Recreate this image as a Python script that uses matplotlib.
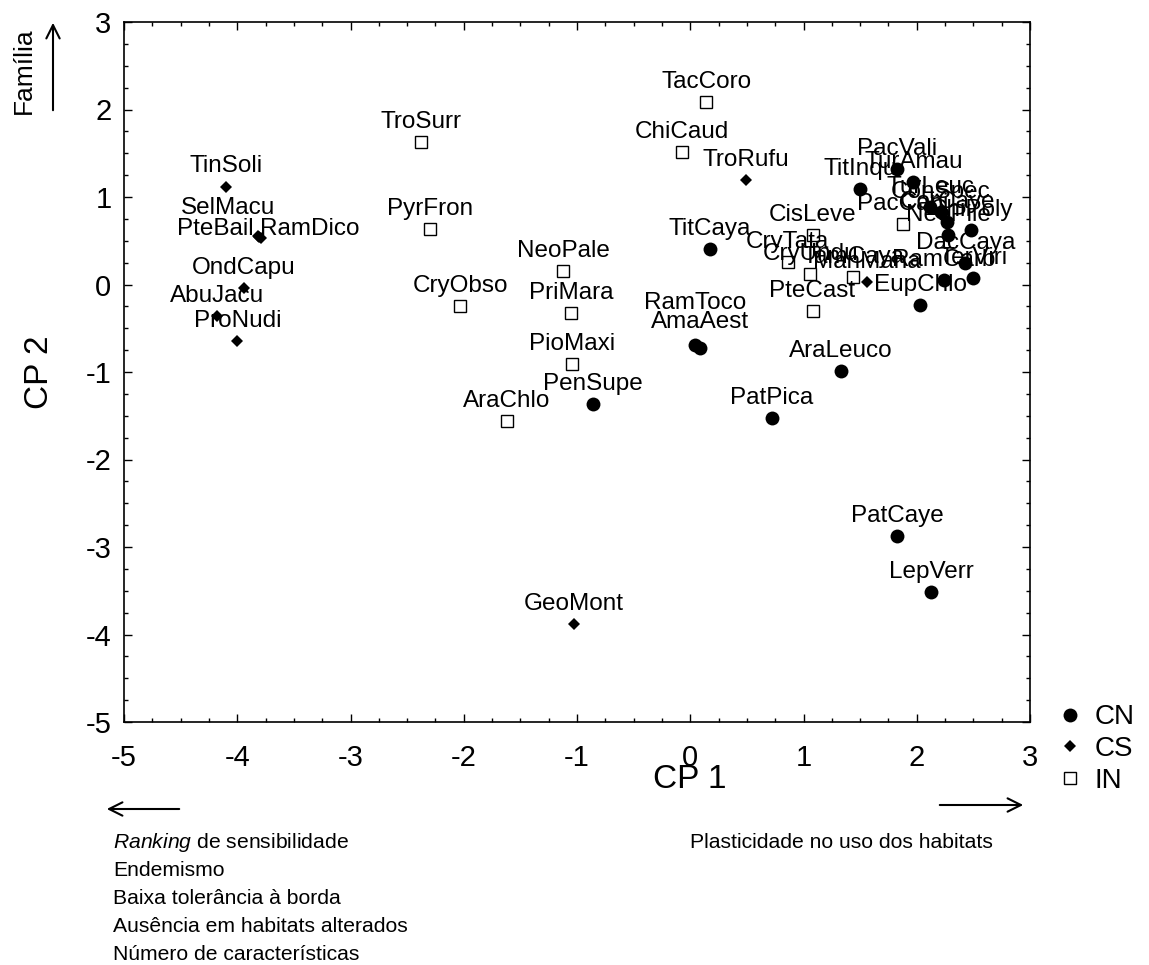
import matplotlib
matplotlib.use('Agg')
import matplotlib.pyplot as plt
from matplotlib.ticker import MultipleLocator

plt.rcParams['font.family'] = ['Liberation Sans', 'DejaVu Sans']
plt.rcParams['axes.unicode_minus'] = False
plt.rcParams['mathtext.fontset'] = 'custom'
plt.rcParams['mathtext.rm'] = 'Liberation Sans'
plt.rcParams['mathtext.it'] = 'Liberation Sans:italic'

# CN species
cn_names = ['TitCaya', 'RamToco', 'AmaAest', 'PenSupe', 'PatPica', 'AraLeuco',
            'PatCaye', 'LepVerr', 'PacVali', 'TitInqu', 'TurAmau', 'TurLeuc',
            'ConSpec', 'CorCaye', 'ChiPoly', 'NeoPile', 'DacCaya', 'TerViri',
            'RamCarb', 'EupChlo']
cn_x = [0.17, 0.04, 0.09, -0.86, 0.72, 1.33,
        1.83, 2.13, 1.83, 1.50, 1.97, 2.12,
        2.21, 2.27, 2.48, 2.28, 2.43, 2.50,
        2.24, 2.03]
cn_y = [0.41, -0.69, -0.72, -1.37, -1.53, -0.99,
        -2.87, -3.51, 1.32, 1.09, 1.17, 0.89,
        0.83, 0.71, 0.62, 0.57, 0.25, 0.08,
        0.05, -0.23]

# CS species
cs_names = ['TinSoli', 'SelMacu', 'PteBail', 'RamDico', 'OndCapu', 'AbuJacu',
            'ProNudi', 'TroRufu', 'GeoMont', 'ManMana']
cs_x = [-4.10, -3.82, -3.81, -3.79, -3.94, -4.18, -4.00, 0.49, -1.03, 1.56]
cs_y = [1.12, 0.56, 0.54, 0.53, -0.04, -0.36, -0.65, 1.19, -3.88, 0.03]

# IN species
in_names = ['TacCoro', 'ChiCaud', 'TroSurr', 'PyrFron', 'CryObso', 'NeoPale',
            'PriMara', 'PioMaxi', 'AraChlo', 'CisLeve', 'CryTata', 'CryUndu',
            'TamCaya', 'PteCast', 'PacCapi']
in_x = [0.14, -0.07, -2.38, -2.30, -2.03, -1.12, -1.05, -1.04, -1.62, 1.08,
        0.86, 1.06, 1.44, 1.08, 1.88]
in_y = [2.09, 1.52, 1.63, 0.64, -0.25, 0.15, -0.33, -0.91, -1.56, 0.57,
        0.26, 0.12, 0.09, -0.30, 0.69]

# label offsets in pixels (dx, up); default is centered above the mark
offsets = {'SelMacu': (-30, 28), 'PteBail': (-43, 8), 'RamDico': (49, 9),
           'RamToco': (0, 42), 'AmaAest': (0, 25)}
default_off = (0, 20)

fig = plt.figure(figsize=(11.49, 9.65), dpi=100)
ax = fig.add_axes([124 / 1149, 1 - 722 / 965, 906 / 1149, 700 / 965])

ax.plot(cn_x, cn_y, 'o', color='black', ms=10, mew=0, label='CN')
ax.plot(cs_x, cs_y, 'D', color='black', ms=6, mew=0, label='CS')
ax.plot(in_x, in_y, 's', mfc='white', mec='black', ms=9, mew=1, label='IN')

for names, xs, ys in [(cn_names, cn_x, cn_y), (cs_names, cs_x, cs_y), (in_names, in_x, in_y)]:
    for n, x, y in zip(names, xs, ys):
        dx, dy = offsets.get(n, default_off)
        ax.annotate(n, (x, y), xytext=(dx * 0.72, dy * 0.72), textcoords='offset points',
                    ha='center', va='center', fontsize=17.5)

ax.set_xlim(-5, 3)
ax.set_ylim(-5, 3)
ax.xaxis.set_major_locator(MultipleLocator(1))
ax.yaxis.set_major_locator(MultipleLocator(1))
ax.xaxis.set_minor_locator(MultipleLocator(0.25))
ax.yaxis.set_minor_locator(MultipleLocator(0.25))
ax.tick_params(which='both', direction='in', top=True, right=True, width=1)
ax.tick_params(which='major', length=6, labelsize=21)
ax.tick_params(axis='x', which='major', pad=16)
ax.tick_params(axis='y', which='major', pad=9)
ax.tick_params(which='minor', length=3)
for s in ax.spines.values():
    s.set_linewidth(1.2)

ax.legend(loc='upper left', bbox_to_anchor=(1.013, 0.045), frameon=False, fontsize=20,
          handletextpad=0.4, labelspacing=0.2, borderpad=0, handlelength=1)

def fx(px):
    return px / 1149

def fy(py):
    return 1 - py / 965

fig.text(fx(690), fy(780), 'CP 1', fontsize=24, ha='center', va='center')
fig.text(fx(40), fy(372), 'CP 2', fontsize=24, ha='center', va='center', rotation=90)
fig.text(fx(24), fy(71), 'Família', fontsize=19, ha='center', va='center', rotation=90)

arrow = dict(arrowstyle='->', color='black', lw=1.5, mutation_scale=24)
fig.add_artist(matplotlib.patches.FancyArrowPatch((fx(53), fy(113)), (fx(53), fy(20)),
                                                  transform=fig.transFigure, **arrow))
fig.add_artist(matplotlib.patches.FancyArrowPatch((fx(182), fy(809)), (fx(104), fy(809)),
                                                  transform=fig.transFigure, **arrow))
fig.add_artist(matplotlib.patches.FancyArrowPatch((fx(937), fy(805)), (fx(1026), fy(805)),
                                                  transform=fig.transFigure, **arrow))

lines = ['$\\it{Ranking}$ de sensibilidade', 'Endemismo', 'Baixa tolerância à borda',
         'Ausência em habitats alterados', 'Número de características']
for i, t in enumerate(lines):
    fig.text(fx(113), fy(843 + 28 * i), t, fontsize=15.2, ha='left', va='center')
fig.text(fx(690), fy(843), 'Plasticidade no uso dos habitats', fontsize=15.2, ha='left', va='center')

fig.savefig('out.png', dpi=100)
